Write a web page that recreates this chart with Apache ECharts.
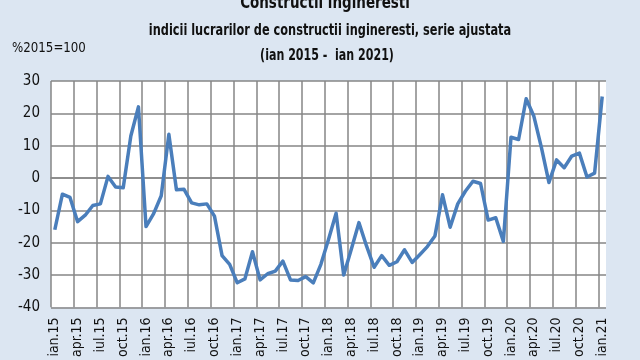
<!DOCTYPE html>
<html>
<head>
<meta charset="utf-8">
<script src="https://cdn.jsdelivr.net/npm/echarts@6/dist/echarts.min.js"></script>
<style>
html,body{margin:0;padding:0;background:#dce6f2;}
#c{width:640px;height:360px;}
</style>
</head>
<body>
<div id="c"></div>
<script>
var months = ['ian','feb','mar','apr','mai','iun','iul','aug','sep','oct','nov','dec'];
var years = ['15','16','17','18','19','20','21'];
var values = [
  -16, -5, -6, -13.5, -11.5, -8.5, -8, 0.5, -2.8, -3, 13, 22,
  -15, -11, -5.5, 13.5, -3.6, -3.5, -7.7, -8.3, -8, -11.8, -24, -26.7,
  -32.4, -31.2, -22.8, -31.5, -29.6, -28.8, -25.7, -31.5, -31.7, -30.5, -32.4, -26.7,
  -19, -10.9, -30, -22, -13.8, -21, -27.6, -24, -27, -25.9, -22.2, -26.1,
  -23.7, -21.2, -17.9, -5.2, -15.2, -8, -4.1, -1, -1.7, -13, -12.3, -19.6,
  12.6, 11.9, 24.5, 19.2, 9.5, -1.4, 5.6, 3.2, 6.8, 7.7, 0.3, 1.5,
  25.2
];
var yTicks = [-40, -30, -20, -10, 0, 10, 20, 30];
var titleText = 'Constructii ingineresti';
var subtitleText = 'indicii lucrarilor de constructii ingineresti, serie ajustata';
var periodText = '(ian 2015 -  ian 2021)';
var unitText = '%2015=100';

var categories = [];
for (var y = 0; y < years.length; y++) {
  for (var m = 0; m < months.length; m++) {
    if (categories.length < values.length) categories.push(months[m] + '.' + years[y]);
  }
}

// vertical grid line colours: visible at every 3rd boundary, hidden at the far right end
var GRID = '#868686';
var vColors = [];
for (var i = 0; i < 25; i++) vColors.push(GRID);
vColors.push('rgba(0,0,0,0)');

var FONT = '"DejaVu Sans Condensed", "Liberation Sans Narrow", sans-serif';
var chart = echarts.init(document.getElementById('c'), null, {renderer: 'canvas'});
chart.setOption({
  backgroundColor: '#dce6f2',
  animation: false,
  graphic: [
    {type: 'text', x: 325, y: 4, scaleX: 0.88, style: {text: titleText, font: 'bold 17px ' + FONT, fill: '#111', textAlign: 'center', textVerticalAlign: 'middle'}},
    {type: 'text', x: 330, y: 31, scaleX: 0.84, style: {text: subtitleText, font: 'bold 15px ' + FONT, fill: '#111', textAlign: 'center', textVerticalAlign: 'middle'}},
    {type: 'text', x: 327, y: 56, scaleX: 0.82, style: {text: periodText, font: 'bold 15px ' + FONT, fill: '#111', textAlign: 'center', textVerticalAlign: 'middle'}},
    {type: 'text', x: 12, y: 48, scaleX: 0.94, style: {text: unitText, font: '14px ' + FONT, fill: '#111', textAlign: 'left', textVerticalAlign: 'middle'}}
  ],
  grid: {left: 51, right: 34, top: 81, bottom: 38, show: true, backgroundColor: '#ffffff', borderWidth: 0},
  xAxis: {
    type: 'category',
    data: categories,
    boundaryGap: true,
    axisLine: {show: true, lineStyle: {color: GRID, width: 1.5}},
    axisTick: {show: false, interval: 2},
    axisLabel: {interval: 2, rotate: 90, margin: 10, fontFamily: FONT, fontSize: 14, color: '#111'},
    splitLine: {show: true, interval: 2, lineStyle: {color: vColors, width: 1.5}}
  },
  yAxis: {
    type: 'value',
    min: yTicks[0],
    max: yTicks[yTicks.length - 1],
    interval: 10,
    axisLine: {show: false},
    axisTick: {show: false},
    axisLabel: {margin: 11, fontFamily: FONT, fontSize: 15, color: '#111'},
    splitLine: {show: true, lineStyle: {color: GRID, width: 1.5}}
  },
  series: [{
    type: 'line',
    data: values,
    symbol: 'none',
    lineStyle: {color: '#4a7ebb', width: 3.5, join: 'round'},
    z: 5
  }]
});
</script>
</body>
</html>
